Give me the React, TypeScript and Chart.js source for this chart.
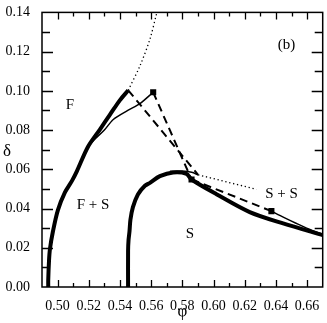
import { useEffect, useRef } from 'react';
import { Chart, registerables } from 'chart.js';

Chart.register(...registerables);

// Axis ranges and tick spacing
const xRange = [0.49, 0.67];
const yRange = [0.0, 0.14];
const tickStep = 0.01;

// Thick fluid boundary (F | F+S)
const fLineX = [0.4940, 0.4940, 0.4945, 0.4951, 0.4970, 0.5002, 0.5047, 0.5092, 0.5124, 0.5195, 0.5272, 0.5336, 0.5400, 0.5453];
const fLineY = [0.0, 0.0035, 0.0134, 0.0194, 0.0283, 0.0392, 0.0482, 0.0541, 0.0591, 0.0715, 0.0804, 0.0879, 0.0953, 0.1003];

// Thin metastable branch ending at upper critical point
const fThinX = [0.5190, 0.5229, 0.5300, 0.5357, 0.5450, 0.5528, 0.5613];
const fThinY = [0.0710, 0.0746, 0.0800, 0.0854, 0.0900, 0.0935, 0.0993];

// Dotted continuation above the fluid boundary
const dotUpX = [0.5453, 0.5528, 0.5593, 0.5637, 0.5660];
const dotUpY = [0.1003, 0.1127, 0.1266, 0.1400, 0.1460];

// Dashed lines
const dashAX = [0.5453, 0.5901];
const dashAY = [0.1003, 0.0572];
const dashBX = [0.5613, 0.5859];
const dashBY = [0.0993, 0.0548];
const dashCX = [0.5859, 0.6371];
const dashCY = [0.0548, 0.0387];

// Dotted line to the right of the V tip
const dotRightX = [0.5901, 0.6275];
const dotRightY = [0.0572, 0.0498];

// Thick solid boundary (S)
const sLineX = [0.5452, 0.5452, 0.5455, 0.5461, 0.5467, 0.5483, 0.5515, 0.5560, 0.5592, 0.5656, 0.5741, 0.5827, 0.5859, 0.6019, 0.6232, 0.6446, 0.6705];
const sLineY = [0.0, 0.0184, 0.0240, 0.0283, 0.0343, 0.0407, 0.0472, 0.0516, 0.0531, 0.0565, 0.0584, 0.0577, 0.0548, 0.0473, 0.0382, 0.0324, 0.0263];

// Thin lines near the solid boundary
const sThinTopX = [0.5720, 0.5800, 0.5860, 0.5901];
const sThinTopY = [0.0590, 0.0591, 0.0585, 0.0572];
const sThinRightX = [0.6371, 0.6450, 0.6532, 0.6610, 0.6705];
const sThinRightY = [0.0387, 0.0355, 0.0324, 0.0296, 0.0266];

// Critical points (square markers)
const markerX = [0.5613, 0.5859, 0.6371];
const markerY = [0.0993, 0.0548, 0.0387];

// Region labels
const labelTexts = ['F', '(b)', 'F + S', 'S', 'S + S'];
const labelX = [0.5079, 0.6468, 0.5227, 0.5848, 0.6436];
const labelY = [0.0928, 0.1235, 0.0417, 0.0268, 0.0473];

const xTitle = 'φ';
const yTitle = 'δ';

const FONT = '"Liberation Serif", "Times New Roman", serif';

const pts = (xs: number[], ys: number[]) => xs.map((x, i) => ({ x, y: ys[i] }));
const isMajor = (v: number) => Math.round(v * 100) % 2 === 0;

const lineDs = (data: any[], width: number, dash: number[] = [], tension = 0) => ({
  type: 'scatter' as const,
  data,
  showLine: true,
  borderColor: '#000',
  backgroundColor: '#000',
  borderWidth: width,
  borderDash: dash,
  pointRadius: 0,
  pointHoverRadius: 0,
  tension,
  borderCapStyle: 'butt' as const,
  borderJoinStyle: 'round' as const,
});

const framePlugin = {
  id: 'frameTicks',
  afterDraw(chart: any) {
    const { ctx, chartArea: a, scales } = chart;
    ctx.save();
    ctx.strokeStyle = '#000';
    ctx.lineWidth = 1.5;
    ctx.strokeRect(a.left, a.top, a.right - a.left, a.bottom - a.top);
    ctx.lineWidth = 1.3;
    ctx.beginPath();
    scales.x.ticks.forEach((t: any) => {
      const p = Math.round(scales.x.getPixelForValue(t.value)) + 0.5;
      if (p < a.left + 2 || p > a.right - 2) return;
      const len = isMajor(t.value) ? 7 : 4;
      ctx.moveTo(p, a.bottom);
      ctx.lineTo(p, a.bottom - len);
      ctx.moveTo(p, a.top);
      ctx.lineTo(p, a.top + len);
    });
    scales.y.ticks.forEach((t: any) => {
      const p = Math.round(scales.y.getPixelForValue(t.value)) + 0.5;
      if (p < a.top + 2 || p > a.bottom - 2) return;
      const len = isMajor(t.value) ? 11 : 8;
      ctx.moveTo(a.left, p);
      ctx.lineTo(a.left + len, p);
      ctx.moveTo(a.right, p);
      ctx.lineTo(a.right - len, p);
    });
    ctx.stroke();

    ctx.fillStyle = '#000';
    ctx.textAlign = 'center';
    ctx.textBaseline = 'middle';
    ctx.font = `15px ${FONT}`;
    labelTexts.forEach((txt, i) => {
      ctx.fillText(txt, scales.x.getPixelForValue(labelX[i]), scales.y.getPixelForValue(labelY[i]));
    });
    ctx.font = `17px ${FONT}`;
    ctx.fillText(xTitle, (a.left + a.right) / 2, a.bottom + 25);
    ctx.fillText(yTitle, 7, (a.top + a.bottom) / 2 + 2);
    ctx.restore();
  },
};

export default function App() {
  const ref = useRef<HTMLCanvasElement>(null);
  useEffect(() => {
    if (!ref.current) return;
    const tickCb = (v: any) => (isMajor(Number(v)) ? Number(v).toFixed(2) : '');
    const chart = new Chart(ref.current, {
      type: 'scatter',
      data: {
        datasets: [
          lineDs(pts(fLineX, fLineY), 4, [], 0.3),
          lineDs(pts(fThinX, fThinY), 1.5, [], 0.3),
          lineDs(pts(dotUpX, dotUpY), 1.3, [1.3, 2.7], 0.3),
          lineDs(pts(dashAX, dashAY), 2, [8, 5]),
          lineDs(pts(dashBX, dashBY), 2, [8, 5]),
          lineDs(pts(dashCX, dashCY), 2, [8, 5]),
          lineDs(pts(dotRightX, dotRightY), 1.3, [1.3, 2.7]),
          lineDs(pts(sLineX, sLineY), 4, [], 0.3),
          lineDs(pts(sThinTopX, sThinTopY), 1.5, [], 0.3),
          lineDs(pts(sThinRightX, sThinRightY), 1.5, [], 0.3),
          {
            type: 'scatter' as const,
            data: pts(markerX, markerY),
            showLine: false,
            pointStyle: 'rect',
            pointRadius: 4.3,
            pointBackgroundColor: '#000',
            pointBorderColor: '#000',
            pointBorderWidth: 0,
          },
        ] as any,
      },
      options: {
        animation: false,
        responsive: false,
        devicePixelRatio: 1,
        layout: { padding: { top: 5, right: 4, left: 0, bottom: 0 } },
        plugins: { legend: { display: false }, tooltip: { enabled: false } },
        events: [],
        scales: {
          x: {
            type: 'linear',
            min: xRange[0],
            max: xRange[1],
            grid: { display: false },
            border: { display: false },
            ticks: {
              stepSize: tickStep,
              autoSkip: false,
              maxRotation: 0,
              padding: 3,
              color: '#000',
              font: { family: FONT, size: 14 },
              callback: tickCb,
            },
            afterFit: (s: any) => { s.height = 36; },
          },
          y: {
            type: 'linear',
            min: yRange[0],
            max: yRange[1],
            grid: { display: false },
            border: { display: false },
            ticks: {
              stepSize: tickStep,
              autoSkip: false,
              padding: 4,
              color: '#000',
              font: { family: FONT, size: 14 },
              callback: tickCb,
            },
            afterFit: (s: any) => { s.width = 42; },
          },
        },
      },
      plugins: [framePlugin],
    });
    return () => chart.destroy();
  }, []);
  return (
    <div style={{ position: 'fixed', left: 0, top: 0, width: 327, height: 323, background: '#fff' }}>
      <canvas ref={ref} width={327} height={323} />
    </div>
  );
}
